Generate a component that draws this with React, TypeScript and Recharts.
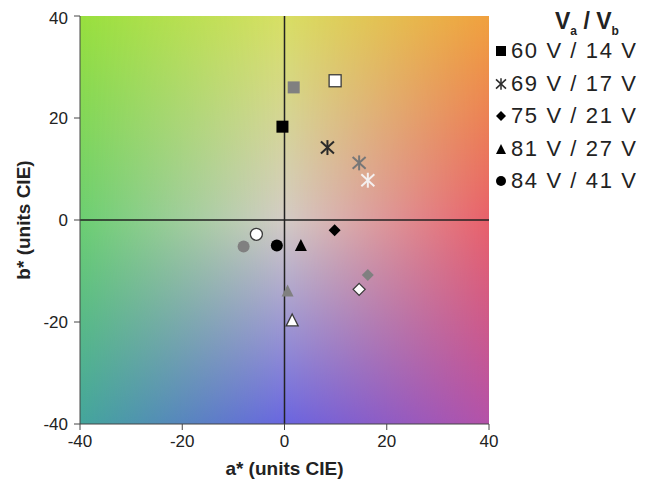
import { ScatterChart, Scatter, XAxis, YAxis, ReferenceLine, ReferenceArea, Cell } from 'recharts'

const SERIES = ['60 V / 14 V', '69 V / 17 V', '75 V / 21 V', '81 V / 27 V', '84 V / 41 V']
const MARKERS = ['square', 'asterisk', 'diamond', 'triangle', 'circle']

// one row per series, three samples each: black, gray, white
const A_VALUES = [
  [-0.4, 1.8, 9.9],
  [8.4, 14.6, 16.3],
  [9.8, 16.3, 14.6],
  [3.2, 0.6, 1.5],
  [-1.5, -8.0, -5.5],
]
const B_VALUES = [
  [18.3, 26.0, 27.3],
  [14.2, 11.2, 7.8],
  [-2.0, -10.8, -13.6],
  [-4.9, -13.8, -19.6],
  [-5.0, -5.2, -2.8],
]
const SAMPLE_FILLS = ['#000000', '#808080', '#ffffff']
const TICKS = [-40, -20, 0, 20, 40]

const FONT = '"Liberation Sans", Arial, sans-serif'

// colour field behind the plot, 3x3 grid (top, middle, bottom) x (left, centre, right)
const BG_LEFT = ['#98e03e', '#6ccf72', '#44a69c']
const BG_CENTER = ['#d8df64', '#d4ccc6', '#6a66e0']
const BG_RIGHT = ['#f0a03e', '#e8606a', '#b452a8']

const Background = (props: any) => {
  const { x, y, width, height } = props
  const col = (id: string, c: string[]) => (
    <linearGradient id={id} x1='0' y1='0' x2='0' y2='1'>
      <stop offset='0' stopColor={c[0]} />
      <stop offset='0.5' stopColor={c[1]} />
      <stop offset='1' stopColor={c[2]} />
    </linearGradient>
  )
  return (
    <g>
      <defs>
        {col('bgL', BG_LEFT)}
        {col('bgC', BG_CENTER)}
        {col('bgR', BG_RIGHT)}
        <linearGradient id='mkC' x1='0' y1='0' x2='1' y2='0'>
          <stop offset='0' stopColor='#000' />
          <stop offset='0.5' stopColor='#fff' />
          <stop offset='1' stopColor='#fff' />
        </linearGradient>
        <linearGradient id='mkR' x1='0' y1='0' x2='1' y2='0'>
          <stop offset='0' stopColor='#000' />
          <stop offset='0.5' stopColor='#000' />
          <stop offset='1' stopColor='#fff' />
        </linearGradient>
        <mask id='maskC' maskUnits='userSpaceOnUse' x={x} y={y} width={width} height={height}>
          <rect x={x} y={y} width={width} height={height} fill='url(#mkC)' />
        </mask>
        <mask id='maskR' maskUnits='userSpaceOnUse' x={x} y={y} width={width} height={height}>
          <rect x={x} y={y} width={width} height={height} fill='url(#mkR)' />
        </mask>
      </defs>
      <rect x={x} y={y} width={width} height={height} fill='url(#bgL)' />
      <rect x={x} y={y} width={width} height={height} fill='url(#bgC)' mask='url(#maskC)' />
      <rect x={x} y={y} width={width} height={height} fill='url(#bgR)' mask='url(#maskR)' />
    </g>
  )
}

function Marker({ kind, cx, cy, fill, size }: { kind: string; cx: number; cy: number; fill: string; size: number }) {
  const h = size / 2
  const stroke = fill === '#ffffff' ? '#3a3a3a' : 'none'
  if (kind === 'square')
    return <rect x={cx - h} y={cy - h} width={size} height={size} fill={fill} stroke={stroke} strokeWidth={1.3} />
  if (kind === 'diamond')
    return (
      <polygon
        points={`${cx},${cy - h} ${cx + h},${cy} ${cx},${cy + h} ${cx - h},${cy}`}
        fill={fill}
        stroke={stroke}
        strokeWidth={1.3}
      />
    )
  if (kind === 'triangle')
    return (
      <polygon
        points={`${cx},${cy - h} ${cx + h},${cy + h} ${cx - h},${cy + h}`}
        fill={fill}
        stroke={stroke}
        strokeWidth={1.3}
      />
    )
  if (kind === 'circle') return <circle cx={cx} cy={cy} r={h} fill={fill} stroke={stroke} strokeWidth={1.3} />
  // asterisk: vertical bar plus an X
  const c = fill === '#000000' ? '#2a2a2a' : fill === '#808080' ? '#777777' : '#f4f0f0'
  const dx = h * 1.0
  const dy = h * 1.15
  return (
    <g stroke={c} strokeWidth={size > 11 ? 2 : 1.5}>
      <line x1={cx} y1={cy - dy} x2={cx} y2={cy + dy} />
      <line x1={cx - dx} y1={cy - dy * 0.8} x2={cx + dx} y2={cy + dy * 0.8} />
      <line x1={cx - dx} y1={cy + dy * 0.8} x2={cx + dx} y2={cy - dy * 0.8} />
    </g>
  )
}

const YLabel = (props: any) => {
  const { viewBox } = props
  const x = 15
  const y = viewBox.y + viewBox.height / 2
  return (
    <text
      x={x}
      y={y}
      transform={`rotate(-90, ${x}, ${y})`}
      textAnchor='middle'
      dominantBaseline='central'
      fontFamily={FONT}
      fontWeight='bold'
      fontSize={19}
      fill='#222'
    >
      b* (units CIE)
    </text>
  )
}

const XLabel = (props: any) => {
  const { viewBox } = props
  return (
    <text
      x={viewBox.x + viewBox.width / 2}
      y={460}
      textAnchor='middle'
      dominantBaseline='central'
      fontFamily={FONT}
      fontWeight='bold'
      fontSize={19}
      fill='#222'
    >
      a* (units CIE)
    </text>
  )
}

export default function App() {
  const series = SERIES.map((name, i) => ({
    name,
    kind: MARKERS[i],
    data: A_VALUES[i].map((a, j) => ({ a, b: B_VALUES[i][j], shade: j })),
  }))

  return (
    <div style={{ position: 'relative', width: 642, height: 476, fontFamily: FONT }}>
      <ScatterChart width={642} height={476} margin={{ top: 8, right: 161, bottom: 0, left: 0 }}>
        <XAxis
          type='number'
          dataKey='a'
          domain={[-40, 40]}
          ticks={TICKS}
          height={60}
          tickSize={6}
          tickMargin={5}
          stroke='#444'
          tick={{ fill: '#222', fontSize: 17, fontFamily: FONT }}
          label={<XLabel />}
        />
        <YAxis
          type='number'
          dataKey='b'
          domain={[-40, 40]}
          ticks={TICKS}
          width={72}
          tickSize={6}
          tickMargin={6}
          stroke='#444'
          tick={{ fill: '#222', fontSize: 17, fontFamily: FONT }}
          label={<YLabel />}
        />
        <ReferenceArea x1={-40} x2={40} y1={-40} y2={40} shape={Background} />
        <ReferenceLine x={0} stroke='#222' strokeWidth={1.5} />
        <ReferenceLine y={0} stroke='#222' strokeWidth={1.5} />
        {series.map((s) => (
          <Scatter
            key={s.name}
            name={s.name}
            data={s.data}
            isAnimationActive={false}
            shape={(p: any) => (
              <Marker kind={s.kind} cx={p.cx} cy={p.cy} fill={p.fill} size={s.kind === 'asterisk' ? 13 : 12} />
            )}
          >
            {s.data.map((d, j) => (
              <Cell key={`cell-${j}`} fill={SAMPLE_FILLS[d.shade]} />
            ))}
          </Scatter>
        ))}
      </ScatterChart>
      <div
        style={{
          position: 'absolute',
          left: 547,
          top: 0,
          fontWeight: 'bold',
          fontSize: 23,
          color: '#222',
          whiteSpace: 'nowrap',
        }}
      >
        V<sub style={{ fontSize: 12 }}>a</sub> / V<sub style={{ fontSize: 12 }}>b</sub>
      </div>
      {series.map((s, i) => (
        <div
          key={s.name}
          style={{
            position: 'absolute',
            left: 486,
            top: 31 + i * 32.5,
            height: 24,
            display: 'flex',
            alignItems: 'center',
            fontSize: 22,
            letterSpacing: 1.6,
            color: '#222',
            whiteSpace: 'nowrap',
          }}
        >
          <svg width={14} height={14} style={{ marginRight: 3 }}>
            <Marker kind={s.kind} cx={7} cy={7} fill='#000000' size={10} />
          </svg>
          {s.name}
        </div>
      ))}
    </div>
  )
}
